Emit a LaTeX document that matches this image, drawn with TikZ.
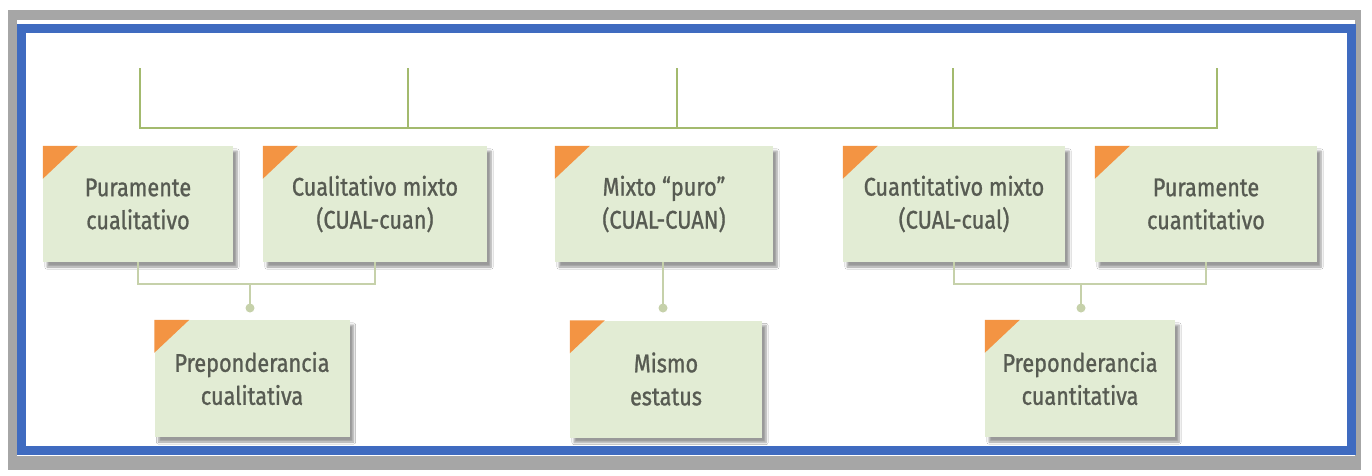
\documentclass[tikz,border=0pt]{standalone}
\usepackage{fontspec}
\setmainfont{Fira Sans}[FakeStretch=0.85,FakeBold=1]
\usetikzlibrary{shadows.blur}
\definecolor{boxfill}{HTML}{E2ECD4}
\definecolor{txtgray}{HTML}{575B52}
\definecolor{topline}{HTML}{A3BA6E}
\definecolor{lowline}{HTML}{C6D1AA}
\definecolor{cornerorange}{HTML}{F39443}
\definecolor{frameblue}{HTML}{3F6BC0}
\definecolor{framegray}{HTML}{A6A6A6}
\tikzset{
  box/.style={fill=boxfill, text=txtgray, align=center, inner sep=0pt,
    minimum height=116pt, font=\fontsize{25.5}{33}\selectfont,
    blur shadow={shadow xshift=4pt, shadow yshift=-5pt, shadow blur steps=6, shadow opacity=40}},
  topl/.style={draw=topline, line width=2.2pt},
  lowl/.style={draw=lowline, line width=2pt},
  dotc/.style={fill=lowline}
}
\newcommand{\corner}[1]{\fill[cornerorange] (#1.north west) -- ++(35,0) -- ++(-35,33) -- cycle;}
\begin{document}
\begin{tikzpicture}[x=1pt,y=-1pt]
\useasboundingbox (0,0) rectangle (1372,475);
\fill[white] (0,0) rectangle (1372,475);
\fill[framegray] (8,10) rectangle (1361,470);
\fill[white] (17,20) rectangle (1355,456);
\draw[frameblue, line width=9pt] (21.5,28) rectangle (1351,450.5);
% top bracket
\coordinate (t1) at (140,68);
\coordinate (t2) at (408,68);
\coordinate (t3) at (677,68);
\coordinate (t4) at (953,68);
\coordinate (t5) at (1217,68);
\coordinate (bl) at (140,128);
\coordinate (br) at (1217,128);
\draw[topl] (t1) -- (bl) -- (br) -- (t5);
\draw[topl] (t2) -- (t2 |- bl);
\draw[topl] (t3) -- (t3 |- bl);
\draw[topl] (t4) -- (t4 |- bl);
% boxes
\node[box, minimum width=190pt] (b1) at (138,204) {Puramente\\cualitativo};
\node[box, minimum width=224pt] (b2) at (375,204) {Cualitativo mixto\\(CUAL-cuan)};
\node[box, minimum width=218pt] (b3) at (664,204) {Mixto “puro”\\(CUAL-CUAN)};
\node[box, minimum width=222pt] (b4) at (954,204) {Cuantitativo mixto\\(CUAL-cual)};
\node[box, minimum width=222pt] (b5) at (1206,204) {Puramente\\cuantitativo};
\node[box, minimum width=195pt, minimum height=117pt] (b6) at (252,378.5) {Preponderancia\\cualitativa};
\node[box, minimum width=192pt, minimum height=117pt] (b7) at (666,379) {Mismo\\estatus};
\node[box, minimum width=190pt, minimum height=117pt] (b8) at (1080,378.5) {Preponderancia\\cuantitativa};
\foreach \b in {b1,b2,b3,b4,b5,b6,b7,b8} {\corner{\b}}
% lower connectors
\coordinate (j1) at (250,284);
\coordinate (j3) at (1081,284);
\coordinate (d6) at (250,308);
\coordinate (d7) at (663,308);
\coordinate (d8) at (1081,308);
\draw[lowl] (b1.south) |- (j1) -| (b2.south);
\draw[lowl] (j1) -- (d6);
\fill[dotc] (d6) circle (4.5pt);
\draw[lowl] (b3.south -| d7) -- (d7);
\fill[dotc] (d7) circle (4.5pt);
\draw[lowl] (b4.south) |- (j3) -| (b5.south);
\draw[lowl] (j3) -- (d8);
\fill[dotc] (d8) circle (4.5pt);
\end{tikzpicture}
\end{document}
